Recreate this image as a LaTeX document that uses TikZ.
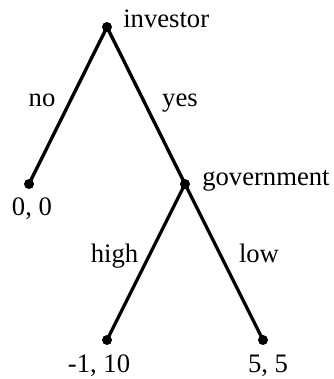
\documentclass[tikz,border=0pt]{standalone}
\usepackage{fontspec}
\setmainfont{Liberation Serif}
\usetikzlibrary{positioning}
\tikzset{dot/.style={circle, fill=black, inner sep=0pt, minimum size=7.5pt}, branch/.style={line width=2.5pt, line cap=round}, lab/.style={font=\fontsize{20}{24}\selectfont, inner sep=0pt, anchor=base}}

\begin{document}
\begin{tikzpicture}[x=0.75pt,y=-0.75pt]
\useasboundingbox (0,0) rectangle (333,379);
\node[dot] (inv) at (107,27) {}; \node[dot] (gov) at (185,184) {};
\node[dot] (out) at (29,184) {}; \node[dot] (hi) at (107,340) {}; \node[dot] (lo) at (263,340) {};
\draw[branch] (inv.center)--(out.center); \draw[branch] (inv.center)--(gov.center);
\draw[branch] (gov.center)--(hi.center); \draw[branch] (gov.center)--(lo.center);
\node[lab,anchor=base west] (invlab) at (123,27) {investor}; \node[lab,anchor=base west] (govlab) at (202,185) {government};
\node[lab] (nolab) at (42,106) {no}; \node[lab] (yeslab) at (180,106) {yes};
\node[lab] (highlab) at (114.5,262) {high}; \node[lab] (lowlab) at (259,262) {low};
\node[lab] (outlab) at (32,215) {0, 0}; \node[lab] (hilab) at (99,372) {-1, 10}; \node[lab] (lolab) at (268,372) {5, 5};
\end{tikzpicture}
\end{document}
